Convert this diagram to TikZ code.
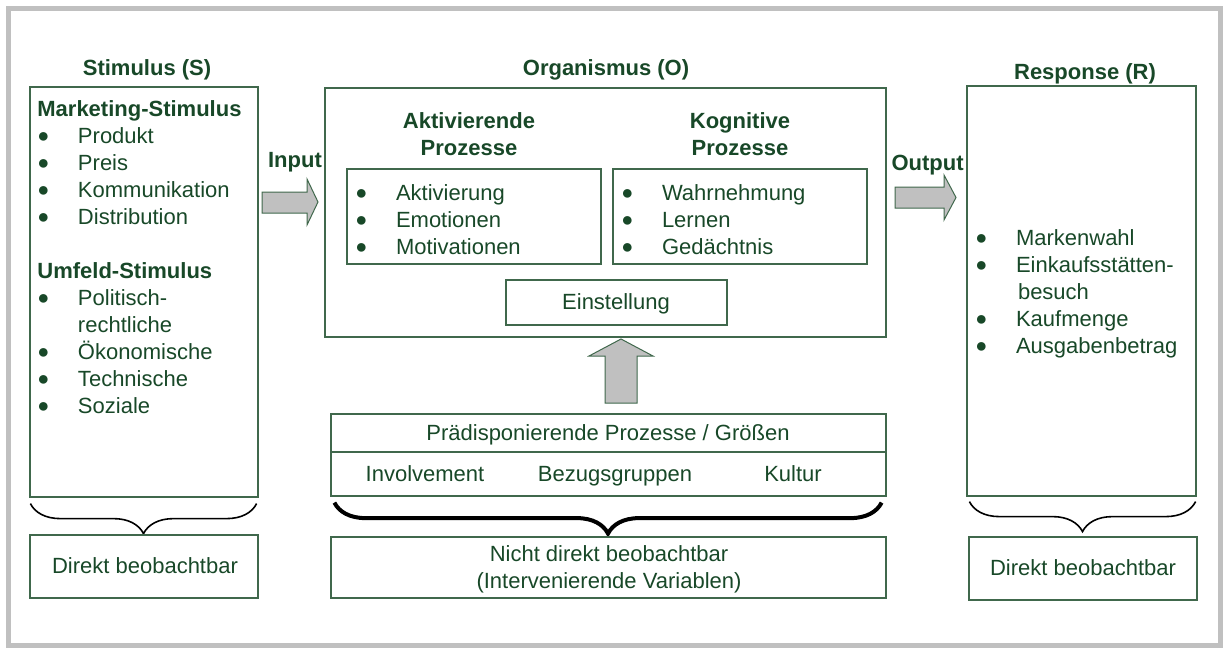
\documentclass[tikz,border=0pt]{standalone}
\usepackage{fontspec}
\setmainfont{Liberation Sans}
\usetikzlibrary{decorations.pathreplacing}

\definecolor{txtgreen}{RGB}{24,72,40}
\definecolor{boxgreen}{RGB}{64,104,76}
\definecolor{arrowgray}{RGB}{192,192,192}
\definecolor{framegray}{RGB}{192,192,192}

\newcommand{\itembul}{\makebox[20.3pt][l]{\raisebox{0.6pt}{\fontsize{10}{10}\selectfont ●}}}

\begin{document}
\begin{tikzpicture}[x=0.5pt, y=-0.5pt,
    every node/.style={font=\fontsize{11}{13.5}\selectfont, text=txtgreen, inner sep=0pt},
    head/.style={font=\fontsize{11}{13.5}\selectfont\bfseries},
    box/.style={draw=boxgreen, line width=0.6pt},
    blockarrow/.style={draw=boxgreen, fill=arrowgray, line width=0.5pt, line join=miter},
    curly/.style={draw=black, line width=0.8pt, decorate, decoration={brace, mirror, amplitude=15pt}}]

    \useasboundingbox (0,0) rectangle (1229,648);
    \draw[framegray, line width=2.5pt] (8.5,8.5) rectangle (1220.5,645); %Outer frame

    %Stimulus
    \node[head, anchor=base] (stimtitle) at (147,75) {Stimulus (S)};
    \node[box, minimum width=114pt, minimum height=205pt] (stim) at (144,292) {};
    \node[anchor=north west, align=left] (stimlist) at (37,100) {\textbf{Marketing-Stimulus}\\
        \itembul Produkt\\ \itembul Preis\\ \itembul Kommunikation\\ \itembul Distribution\\[13.5pt]
        \textbf{Umfeld-Stimulus}\\ \itembul Politisch-\\ \hspace*{20.3pt}rechtliche\\
        \itembul Ökonomische\\ \itembul Technische\\ \itembul Soziale};
    \draw[curly] ([shift={(0.5pt,-3pt)}]stim.south west) -- ([shift={(-1pt,-3pt)}]stim.south east);
    \node[box, minimum width=114pt, minimum height=31.5pt] (stimobs) at (144,566.5) {};
    \node[anchor=base] (stimobstext) at (145,573) {Direkt beobachtbar};

    %Input
    \node[head, anchor=base] (input) at (295,167) {Input};
    \filldraw[blockarrow] (262,192) -- (307,192) -- (307,179) -- (318,202) -- (307,225) -- (307,213) -- (262,213) -- cycle;

    %Organismus
    \node[head, anchor=base] (orgtitle) at (606,75) {Organismus (O)};
    \node[box, minimum width=280.5pt, minimum height=124.5pt] (org) at (605.5,212.5) {};
    \node[head, anchor=north, align=center] (akttitle) at (469,112) {Aktivierende\\Prozesse};
    \node[head, anchor=north, align=center] (kogtitle) at (740,112) {Kognitive\\Prozesse};
    \node[box, minimum width=127pt, minimum height=47.5pt] (akt) at (474,216.5) {};
    \node[box, minimum width=127pt, minimum height=47.5pt] (kog) at (740,216.5) {};
    \node[anchor=north west, align=left] (aktlist) at (355,184) {\itembul Aktivierung\\ \itembul Emotionen\\ \itembul Motivationen};
    \node[anchor=north west, align=left] (koglist) at (621,184) {\itembul Wahrnehmung\\ \itembul Lernen\\ \itembul Gedächtnis};
    \node[box, minimum width=110.5pt, minimum height=22.5pt] (einst) at (616.5,302.5) {};
    \node[anchor=base] (einsttext) at (616,309.5) {Einstellung};

    %Up arrow
    \filldraw[blockarrow] (605,403) -- (605,356) -- (589,356) -- (621,339) -- (653,356) -- (637,356) -- (637,403) -- cycle;

    %Praedisponierende Prozesse
    \node[box, minimum width=277.5pt, minimum height=19pt] (praedtop) at (608.5,433) {};
    \node[box, minimum width=277.5pt, minimum height=22pt] (praedrow) at (608.5,474) {};
    \node[anchor=base] (praedtext) at (608,440) {Prädisponierende Prozesse / Größen};
    \node[anchor=base] (involv) at (425,481) {Involvement};
    \node[anchor=base] (bezug) at (615,481) {Bezugsgruppen};
    \node[anchor=base] (kultur) at (793,481) {Kultur};
    \draw[curly, line width=2pt, decoration={amplitude=15.5pt}] ([shift={(2pt,-3pt)}]praedrow.south west) -- ([shift={(-2.5pt,-3pt)}]praedrow.south east);
    \node[box, minimum width=277.5pt, minimum height=30.5pt] (nicht) at (608.5,567.5) {};
    \node[anchor=north, align=center] (nichttext) at (609,545.5) {Nicht direkt beobachtbar\\(Intervenierende Variablen)};

    %Output
    \node[head, anchor=base east] (output) at (964,170) {Output};
    \filldraw[blockarrow] (895,187) -- (944,187) -- (944,175) -- (956,197.5) -- (944,220) -- (944,208) -- (895,208) -- cycle;

    %Response
    \node[head, anchor=base] (resptitle) at (1085,79) {Response (R)};
    \node[box, minimum width=114.5pt, minimum height=205pt] (resp) at (1081.5,291) {};
    \node[anchor=north west, align=left] (resplist) at (975,229) {\itembul Markenwahl\\ \itembul Einkaufsstätten-\\
        \hspace*{21.3pt}besuch\\ \itembul Kaufmenge\\ \itembul Ausgabenbetrag};
    \draw[curly] ([shift={(1.5pt,-2.5pt)}]resp.south west) -- ([shift={(-0.5pt,-2.5pt)}]resp.south east);
    \node[box, minimum width=114pt, minimum height=31.5pt] (respobs) at (1083,568.5) {};
    \node[anchor=base] (respobstext) at (1083,575) {Direkt beobachtbar};

\end{tikzpicture}
\end{document}
